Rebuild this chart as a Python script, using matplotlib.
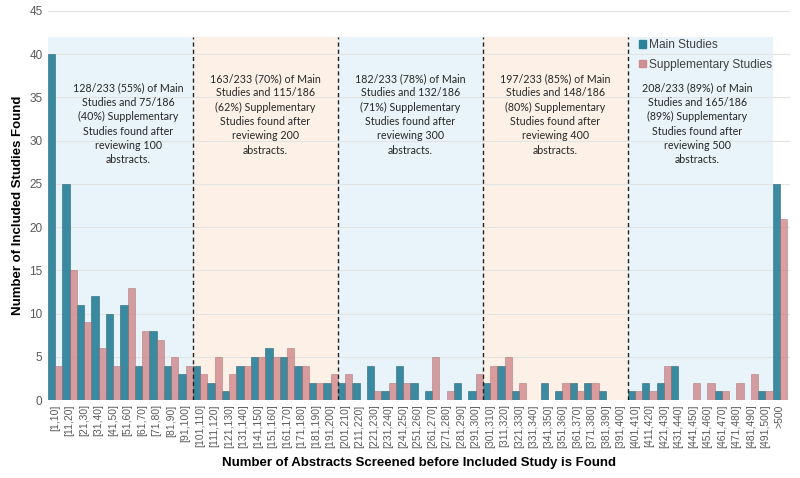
import matplotlib
matplotlib.use("Agg")
import matplotlib.pyplot as plt
from matplotlib.patches import Patch
import numpy as np

plt.rcParams['font.family'] = ['Liberation Sans', 'DejaVu Sans']

# категории по 10 абстрактов + хвост
bins = [f"[{i * 10 + 1},{i * 10 + 10}]" for i in range(50)] + [">500"]

main_studies = [40, 25, 11, 12, 10, 11, 4, 8, 4, 3,
                4, 2, 1, 4, 5, 6, 5, 4, 2, 2,
                2, 2, 4, 1, 4, 2, 1, 0, 2, 1,
                2, 4, 1, 0, 2, 1, 2, 2, 1, 0,
                1, 2, 2, 4, 0, 0, 1, 0, 0, 1,
                25]
supp_studies = [4, 15, 9, 6, 4, 13, 8, 7, 5, 4,
                3, 5, 3, 4, 5, 5, 6, 4, 2, 3,
                3, 0, 1, 2, 2, 0, 5, 1, 0, 3,
                4, 5, 2, 0, 0, 2, 1, 2, 0, 0,
                1, 1, 4, 0, 2, 2, 1, 2, 3, 1,
                21]

notes = [
    "128/233 (55%) of Main\nStudies and 75/186\n(40%) Supplementary\nStudies found after\nreviewing 100\nabstracts.",
    "163/233 (70%) of Main\nStudies and 115/186\n(62%) Supplementary\nStudies found after\nreviewing 200\nabstracts.",
    "182/233 (78%) of Main\nStudies and 132/186\n(71%) Supplementary\nStudies found after\nreviewing 300\nabstracts.",
    "197/233 (85%) of Main\nStudies and 148/186\n(80%) Supplementary\nStudies found after\nreviewing 400\nabstracts.",
    "208/233 (89%) of Main\nStudies and 165/186\n(89%) Supplementary\nStudies found after\nreviewing 500\nabstracts.",
]

blue_bg = '#E8F4F9'
peach_bg = '#FDF1E7'
teal = '#2A8199'
pink = '#CB7A7E'

fig = plt.figure(figsize=(8, 4.78), dpi=100)
ax = fig.add_axes([0.06, 0.163, 0.9275, 0.814])

x = np.arange(len(bins))
w = 0.5

# фоновые полосы
band_edges = [-0.5, 9.5, 19.5, 29.5, 39.5, 49.5]
for k in range(5):
    col = blue_bg if k % 2 == 0 else peach_bg
    ax.fill_between([band_edges[k], band_edges[k + 1]], 0, 42, color=col, zorder=0, lw=0)

ax.set_yticks(range(0, 46, 5))
ax.yaxis.grid(True, color='#E3E3E3', lw=0.8, zorder=0.5)
ax.set_axisbelow(True)

ax.bar(x - w / 2, main_studies, w, color=teal, alpha=0.92, edgecolor='#1F5F70', lw=0.4,
       zorder=2, label='Main Studies')
ax.bar(x + w / 2, supp_studies, w, color=pink, alpha=0.72, edgecolor='#9E5E60', lw=0.4,
       zorder=2, label='Supplementary Studies')

for b in band_edges[1:5]:
    ax.plot([b, b], [0, 42], color='#222222', ls=(0, (3, 2.2)), lw=1.0, zorder=3)

note_y = [36.7, 37.8, 37.8, 37.8, 36.7]
note_x = [5.05, 14.5, 24.5, 34.5, 44.3]
for nx, ny, t in zip(note_x, note_y, notes):
    ax.text(nx, ny, t, ha='center', va='top', fontsize=7.7, color='#262626',
            family=['Lato', 'DejaVu Sans'], linespacing=1.36, zorder=4)

ax.set_xlim(-0.5, 50.7)
ax.set_ylim(0, 45)
ax.set_xticks(x)
ax.set_xticklabels(bins, rotation=90, fontsize=7.5, color='#595959')
ax.tick_params(axis='y', labelsize=8.5, labelcolor='#595959', length=0, pad=4)
ax.tick_params(axis='x', length=0, pad=3)
for s in ax.spines.values():
    s.set_visible(False)

ax.set_xlabel('Number of Abstracts Screened before Included Study is Found',
              fontsize=9.5, fontweight='bold', labelpad=6)
ax.set_ylabel('Number of Included Studies Found', fontsize=9.5, fontweight='bold', labelpad=4)

handles = [Patch(color=teal), Patch(color=pink, alpha=0.8)]
fig.legend(handles, ['Main Studies', 'Supplementary Studies'], loc='upper left',
           bbox_to_anchor=(0.788, 0.935), frameon=False, fontsize=8.6, labelcolor='#404040',
           handlelength=0.6, handleheight=0.6, handletextpad=0.25, labelspacing=0.6,
           borderpad=0.2)

plt.savefig('out.png', dpi=100)
